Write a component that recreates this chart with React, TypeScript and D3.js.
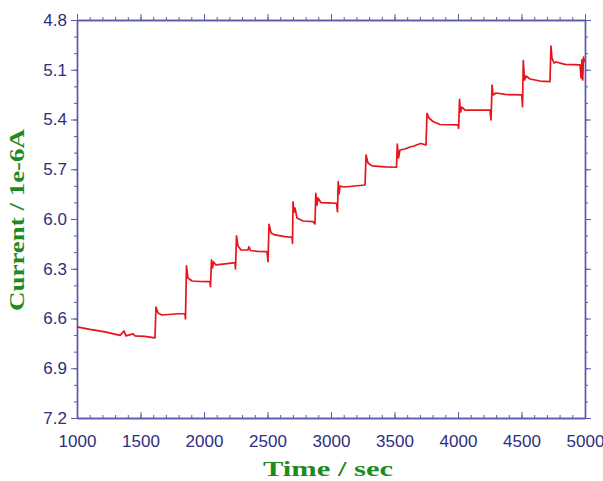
import React, { useEffect, useRef } from 'react';
import * as d3 from 'd3';

// readings (time in s, current in 1e-6 A)
const time = [
  1000, 1102, 1220, 1339, 1370, 1386, 1441, 1457, 1535, 1614,
  1622, 1638, 1669, 1772, 1850, 1854,
  1862, 1874, 1906, 1969, 2047, 2051,
  2059, 2067, 2075, 2094, 2165, 2244, 2248,
  2256, 2268, 2291, 2346, 2354, 2366, 2425, 2496, 2504,
  2512, 2528, 2559, 2638, 2693, 2697,
  2701, 2709, 2717, 2732, 2780, 2858, 2874,
  2880, 2890, 2898, 2921, 2976, 3043, 3051,
  3057, 3063, 3071, 3102, 3189, 3268,
  3276, 3291, 3323, 3425, 3516,
  3522, 3532, 3543, 3583, 3622, 3654, 3693, 3709, 3748,
  3756, 3772, 3803, 3858, 4000, 4005,
  4012, 4020, 4031, 4055, 4134, 4252, 4260,
  4268, 4276, 4299, 4370, 4502, 4508,
  4514, 4524, 4535, 4567, 4646, 4724,
  4732, 4740, 4756, 4772, 4843, 4961, 4969, 4976, 4982, 4988, 4996,
];
const current = [
  6.651, 6.666, 6.681, 6.702, 6.675, 6.705, 6.693, 6.705, 6.708, 6.717,
  6.531, 6.567, 6.579, 6.573, 6.570, 6.603,
  6.283, 6.356, 6.374, 6.377, 6.378, 6.408,
  6.247, 6.295, 6.259, 6.277, 6.271, 6.263, 6.301,
  6.102, 6.163, 6.187, 6.187, 6.167, 6.190, 6.196, 6.197, 6.257,
  6.032, 6.084, 6.096, 6.106, 6.110, 6.147,
  5.896, 5.958, 5.934, 5.994, 6.012, 6.016, 6.030,
  5.845, 5.916, 5.873, 5.902, 5.903, 5.905, 5.956,
  5.775, 5.849, 5.801, 5.807, 5.801, 5.795,
  5.614, 5.662, 5.680, 5.686, 5.688,
  5.548, 5.632, 5.584, 5.578, 5.566, 5.560, 5.548, 5.545, 5.554,
  5.363, 5.391, 5.412, 5.430, 5.433, 5.453,
  5.278, 5.355, 5.325, 5.343, 5.343, 5.343, 5.403,
  5.192, 5.252, 5.240, 5.249, 5.252, 5.323,
  5.045, 5.162, 5.138, 5.156, 5.168, 5.172,
  4.957, 5.029, 5.059, 5.053, 5.068, 5.071, 5.150, 5.041, 5.162, 5.023, 5.053,
];

const xTicks = [1000, 1500, 2000, 2500, 3000, 3500, 4000, 4500, 5000];
const yTicks = [4.8, 5.1, 5.4, 5.7, 6.0, 6.3, 6.6, 6.9, 7.2];
const xMinor = d3.range(1000, 5001, 100);
const yMinor = d3.range(48, 73, 1).map(v => v / 10);

const xTitle = 'Time / sec';
const yTitle = 'Current / 1e-6A';

const W = 603;
const H = 481;
const AXIS = '#5a5aaa';
const LABEL = '#2e2e7e';
const TITLE = '#1f8a1f';

export default function App() {
  const svgRef = useRef<SVGSVGElement>(null);

  useEffect(() => {
    const svg = d3.select(svgRef.current);
    svg.selectAll('*').remove();

    const x = d3.scaleLinear().domain([1000, 5000]).range([77, 585]);
    const y = d3.scaleLinear().domain([4.8, 7.2]).range([20, 418]);

    const styleAxis = (g: any) => {
      g.select('.domain').attr('stroke', AXIS).attr('stroke-width', 1.4);
      g.selectAll('.tick line').attr('stroke', AXIS).attr('stroke-width', 1);
      g.selectAll('.tick text')
        .attr('fill', LABEL)
        .attr('font-family', 'Liberation Sans, Arial, sans-serif')
        .attr('font-size', 17);
    };

    // minor ticks first
    svg.append('g').attr('transform', 'translate(77,0)')
      .call(d3.axisLeft(y).tickValues(yMinor).tickSize(3).tickFormat(() => '').tickSizeOuter(0)).call(styleAxis);
    svg.append('g').attr('transform', 'translate(585,0)')
      .call(d3.axisRight(y).tickValues(yMinor).tickSize(3).tickFormat(() => '').tickSizeOuter(0)).call(styleAxis);
    svg.append('g').attr('transform', 'translate(0,20)')
      .call(d3.axisTop(x).tickValues(xMinor).tickSize(3).tickFormat(() => '').tickSizeOuter(0)).call(styleAxis);
    svg.append('g').attr('transform', 'translate(0,418)')
      .call(d3.axisBottom(x).tickValues(xMinor).tickSize(-3).tickFormat(() => '').tickSizeOuter(0)).call(styleAxis);

    // major ticks
    svg.append('g').attr('transform', 'translate(77,0)')
      .call(d3.axisLeft(y).tickValues(yTicks).tickSize(6).tickPadding(4).tickFormat(d3.format('.1f')).tickSizeOuter(0))
      .call(styleAxis);
    svg.append('g').attr('transform', 'translate(585,0)')
      .call(d3.axisRight(y).tickValues(yTicks).tickSize(6).tickFormat(() => '').tickSizeOuter(0)).call(styleAxis);
    svg.append('g').attr('transform', 'translate(0,20)')
      .call(d3.axisTop(x).tickValues(xTicks).tickSize(6).tickFormat(() => '').tickSizeOuter(0)).call(styleAxis);
    svg.append('g').attr('transform', 'translate(0,418)')
      .call(d3.axisBottom(x).tickValues(xTicks).tickSize(-6).tickPadding(17).tickFormat(d3.format('d')).tickSizeOuter(0))
      .call(styleAxis);

    const line = d3.line<number>()
      .x((_, i) => x(time[i]))
      .y(d => y(d));

    svg.append('path')
      .datum(current)
      .attr('fill', 'none')
      .attr('stroke', '#e8141c')
      .attr('stroke-width', 1.7)
      .attr('stroke-linejoin', 'round')
      .attr('d', line);

    svg.append('text')
      .attr('x', 328).attr('y', 476)
      .attr('text-anchor', 'middle')
      .attr('font-family', 'Liberation Serif, Times New Roman, serif')
      .attr('font-weight', 'bold')
      .attr('font-size', 22)
      .attr('fill', TITLE)
      .attr('textLength', 130)
      .attr('lengthAdjust', 'spacingAndGlyphs')
      .text(xTitle);

    svg.append('text')
      .attr('transform', 'translate(24,220) rotate(-90)')
      .attr('text-anchor', 'middle')
      .attr('font-family', 'Liberation Serif, Times New Roman, serif')
      .attr('font-weight', 'bold')
      .attr('font-size', 22)
      .attr('fill', TITLE)
      .attr('textLength', 182)
      .attr('lengthAdjust', 'spacingAndGlyphs')
      .text(yTitle);
  }, []);

  return (
    <svg
      ref={svgRef}
      width={W}
      height={H}
      style={{ position: 'absolute', left: 0, top: 0, background: '#fff' }}
    />
  );
}
